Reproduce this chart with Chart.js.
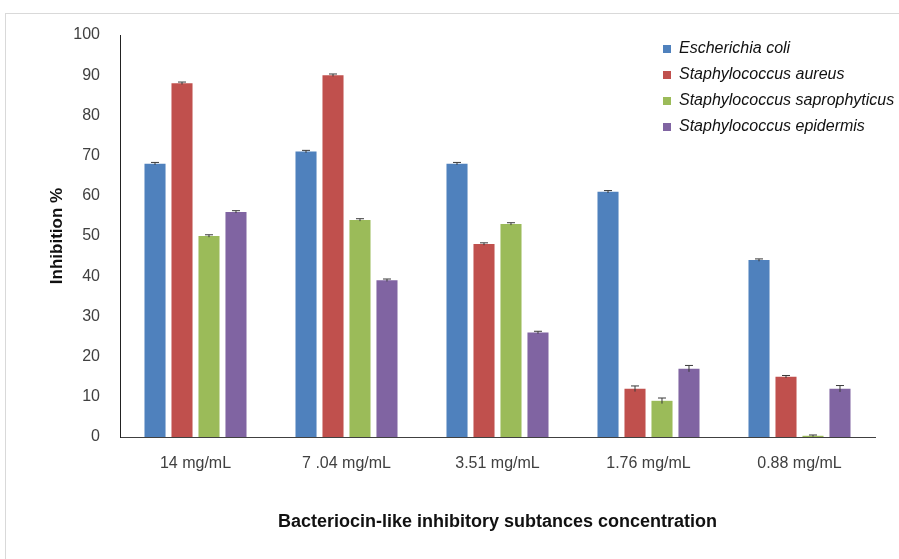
<!DOCTYPE html>
<html>
<head>
<meta charset="utf-8">
<script src="https://cdn.jsdelivr.net/npm/chart.js@4"></script>
<style>
  html, body { margin: 0; padding: 0; background: #fff; overflow: hidden; }
  #frame { position: absolute; left: 5px; top: 13px; width: 1000px; height: 1000px; border: 1px solid #d9d9d9; }
  #wrap { position: absolute; left: 0; top: 0; width: 899px; height: 559px; }
</style>
</head>
<body>
<div id="frame"></div>
<div id="wrap"><canvas id="inhibitionChart"></canvas></div>
<script>
const concentrations = ["14 mg/mL", "7 .04 mg/mL", "3.51 mg/mL", "1.76 mg/mL", "0.88 mg/mL"];
const eColi = [68, 71, 68, 61, 44];
const sAureus = [88, 90, 48, 12, 15];
const sSaprophyticus = [50, 54, 53, 9, 0.3];
const sEpidermis = [56, 39, 26, 17, 12];
// standard errors
const eColiErr = [0.3, 0.3, 0.3, 0.3, 0.3];
const sAureusErr = [0.3, 0.3, 0.3, 0.7, 0.3];
const sSaprophyticusErr = [0.3, 0.3, 0.3, 0.7, 0.2];
const sEpidermisErr = [0.3, 0.3, 0.3, 0.8, 0.8];

const errorBars = {
  id: "errorBars",
  afterDatasetsDraw(chart) {
    const { ctx, scales: { y } } = chart;
    ctx.save();
    ctx.strokeStyle = "#3a3a3a";
    ctx.lineWidth = 1;
    chart.data.datasets.forEach((ds, i) => {
      chart.getDatasetMeta(i).data.forEach((bar, j) => {
        const v = ds.data[j], e = ds.errors[j];
        const top = y.getPixelForValue(v + e);
        const bot = y.getPixelForValue(v - e);
        ctx.beginPath();
        ctx.moveTo(bar.x, top); ctx.lineTo(bar.x, bot);
        ctx.moveTo(bar.x - 4, top); ctx.lineTo(bar.x + 4, top);
        ctx.stroke();
      });
    });
    ctx.restore();
  }
};

// put the legend in the upper-right corner of the plot
const legendCorner = {
  id: "legendCorner",
  afterLayout(chart) {
    const lg = chart.legend;
    const w = lg.width, h = lg.height;
    lg.left = chart.chartArea.right - 222;
    lg.right = lg.left + w;
    lg.top = chart.chartArea.top - 4;
    lg.bottom = lg.top + h;
  }
};

const ctx = document.getElementById("inhibitionChart").getContext("2d");
new Chart(ctx, {
  type: "bar",
  data: {
    labels: concentrations,
    datasets: [
      { label: "Escherichia coli", data: eColi, errors: eColiErr, backgroundColor: "#4f81bd" },
      { label: "Staphylococcus aureus", data: sAureus, errors: sAureusErr, backgroundColor: "#c0504d" },
      { label: "Staphylococcus saprophyticus", data: sSaprophyticus, errors: sSaprophyticusErr, backgroundColor: "#9bbb59" },
      { label: "Staphylococcus epidermis", data: sEpidermis, errors: sEpidermisErr, backgroundColor: "#8064a2" },
    ],
  },
  options: {
    responsive: true,
    maintainAspectRatio: false,
    animation: false,
    categoryPercentage: 0.715,
    barPercentage: 0.78,
    layout: { padding: { left: 0, top: 35, right: 24, bottom: 0 } },
    scales: {
      x: {
        grid: { display: false, drawTicks: false },
        border: { color: "#404040", width: 1 },
        ticks: { color: "#404040", padding: 17, font: { family: "Liberation Sans", size: 16 } },
        title: {
          display: true,
          text: "Bacteriocin-like inhibitory subtances concentration",
          color: "#111",
          font: { family: "Liberation Sans", size: 18, weight: "bold" },
          padding: { top: 4, bottom: 26 },
        },
        afterFit: (s) => { s.height = 122; },
      },
      y: {
        min: 0,
        max: 100,
        grid: { display: false, drawTicks: false },
        border: { color: "#222", width: 1 },
        ticks: { stepSize: 10, color: "#404040", padding: 20, font: { family: "Liberation Sans", size: 16 } },
        title: {
          display: true,
          text: "Inhibition %",
          color: "#111",
          font: { family: "Liberation Sans", size: 17, weight: "bold" },
          padding: { top: 47, bottom: 4 },
        },
        afterFit: (s) => { s.width = 120; },
      },
    },
    plugins: {
      legend: {
        position: "chartArea",
        align: "start",
        labels: {
          boxWidth: 8,
          boxHeight: 8,
          padding: 10,
          color: "#111",
          font: { family: "Liberation Sans", size: 16, style: "italic" },
        },
      },
      tooltip: { enabled: false },
    },
  },
  plugins: [errorBars, legendCorner],
});
</script>
</body>
</html>
